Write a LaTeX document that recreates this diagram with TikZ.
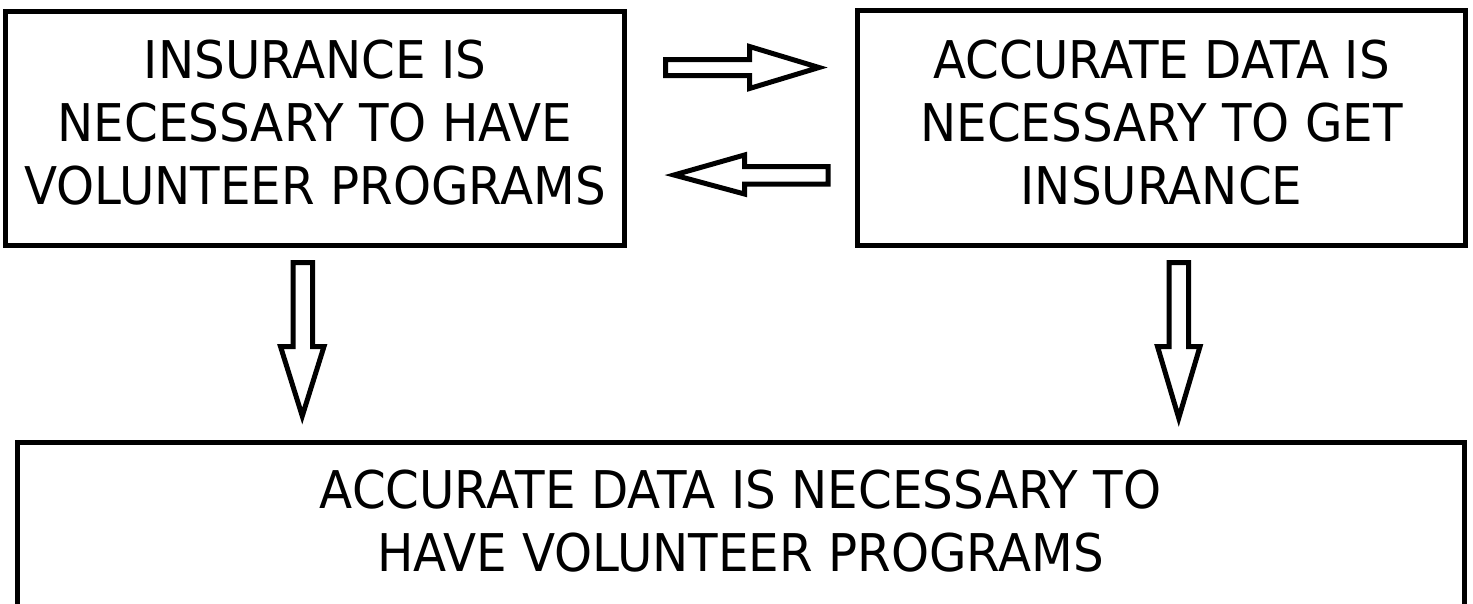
\documentclass[tikz,border=0pt]{standalone}
\usepackage{fontspec}
\usetikzlibrary{calc}
\setmainfont{DejaVu Sans}[FakeStretch=0.93]
\begin{document}
\begin{tikzpicture}[x=1pt,y=-1pt,
  box/.style={draw=black, line width=5pt, rectangle, inner sep=0pt, fill=white},
  txt/.style={align=center, font=\fontsize{52}{63}\selectfont, inner sep=0pt},
  blockarrow/.style={draw=black, line width=5pt, line join=miter, fill=white}]
\useasboundingbox (0,0) rectangle (1473,603);
\clip (0,0) rectangle (1473,603);
\fill[white] (0,0) rectangle (1473,603);
% boxes
\node[box, minimum width=619pt, minimum height=234.5pt] (b1) at (315,128.25) {};
\node[box, minimum width=608pt, minimum height=235pt] (b2) at (1161.5,128) {};
\node[box, minimum width=1447pt, minimum height=169.5pt] (b3) at (741,527.25) {};
% texts
\node[txt] (t1) at ($(b1.center)+(0,-5.75)$) {INSURANCE IS\\NECESSARY TO HAVE\\VOLUNTEER PROGRAMS};
\node[txt] (t2) at ($(b2.center)+(0,-5.5)$) {ACCURATE DATA IS\\NECESSARY TO GET\\INSURANCE};
\node[txt] (t3) at ($(b3.center)+(-0.5,-5.75)$) {ACCURATE DATA IS NECESSARY TO\\HAVE VOLUNTEER PROGRAMS};
% block arrows
\draw[blockarrow] (665.5,59.5) -- (749.5,59.5) -- (749.5,46.5) -- (819,67.5) -- (749.5,88.5) -- (749.5,75.5) -- (665.5,75.5) -- cycle;
\draw[blockarrow] (828,166.5) -- (744.5,166.5) -- (744.5,155) -- (674,175) -- (744.5,194) -- (744.5,184) -- (828,184) -- cycle;
\draw[blockarrow] (293,262.5) -- (312.5,262.5) -- (312.5,346.5) -- (324,346.5) -- (302.25,416) -- (280.5,346.5) -- (293,346.5) -- cycle;
\draw[blockarrow] (1169,262.5) -- (1188.5,262.5) -- (1188.5,346.5) -- (1200,346.5) -- (1178.75,418) -- (1157.5,346.5) -- (1169,346.5) -- cycle;
\end{tikzpicture}
\end{document}
